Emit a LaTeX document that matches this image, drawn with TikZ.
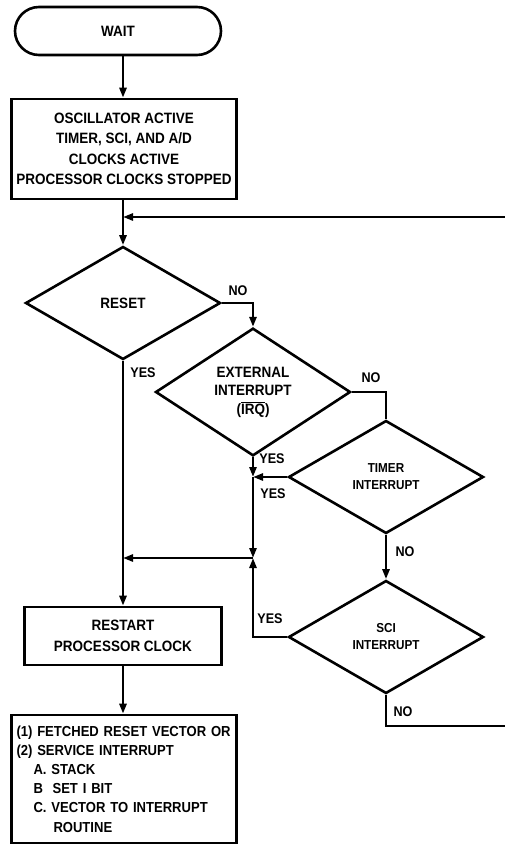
\documentclass[tikz,border=0pt]{standalone}
\usepackage{fontspec}
\setmainfont{Liberation Sans}[FakeStretch=0.9]
\usetikzlibrary{positioning,calc,arrows.meta,shapes.geometric}

\begin{document}
\begin{tikzpicture}[x=1pt, y=-1pt, line width=2.6pt,
  >={Triangle[length=10pt,width=7pt]},
  txt/.style={font=\bfseries\fontsize{15}{20.5}\selectfont},
  box/.style={draw, txt, inner sep=5pt, align=center},
  decision/.style={draw, diamond, txt, inner sep=0pt, align=center,
                   minimum width=195pt, minimum height=113pt},
  lbl/.style={txt, font=\bfseries\fontsize{14}{17}\selectfont, inner sep=0pt}]
\useasboundingbox (0,0) rectangle (505,845);

\node[box, rounded corners=24pt, minimum width=206pt, minimum height=48pt] (wait) at (118,31) {WAIT};
\node[box, minimum width=225pt, minimum height=100pt] (osc) at (124,149)
{OSCILLATOR ACTIVE\\TIMER, SCI, AND A/D\\CLOCKS ACTIVE\\PROCESSOR CLOCKS STOPPED};
\node[decision] (reset) at (123,303) {RESET};
\node[decision] (ext) at (253,392)
{EXTERNAL\\[-2pt]INTERRUPT\\[-2pt](\ensuremath{\overline{\mbox{IRQ}}})};
\node[decision, font=\bfseries\fontsize{13}{17}\selectfont] (timer) at (386,477) {TIMER\\INTERRUPT};
\node[decision, font=\bfseries\fontsize{13}{17}\selectfont] (sci) at (386,637) {SCI\\INTERRUPT};
\node[box, minimum width=197pt, minimum height=58pt] (restart) at (123,636)
{RESTART\\PROCESSOR CLOCK};
\node[box, align=left, text width=215pt, minimum height=128pt,
      font=\bfseries\fontsize{14.5}{19.2}\selectfont] (vector) at (124,779)
{(1) FETCHED RESET VECTOR OR\\
(2) SERVICE INTERRUPT\\
\hspace*{17pt}A. STACK\\
\hspace*{17pt}B\ \ SET I BIT\\
\hspace*{17pt}C. VECTOR TO INTERRUPT\\
\hspace*{37pt}ROUTINE};

\coordinate (jn) at (123,217);
\coordinate (tj) at (253,477);
\coordinate (mg) at (253,558);
\coordinate (fbtop) at (507,217);
\coordinate (fbbot) at (507,726);

\draw[->] (jn |- wait.south) -- (jn |- osc.north);
\draw (jn |- osc.south) -- (jn);
\draw[->] (jn) -- (reset.north);
\draw[->] (reset.east) -| (ext.north);
\draw[->] (reset.south) -- (restart.north);
\draw (ext.east) -| (timer.north);
\draw[->] (ext.south) -- (tj);
\draw[->] (timer.west) -- (tj);
\draw[->] (tj) -- (mg);
\draw[->] (mg) -- (mg -| reset.south);
\draw[->] (timer.south) -- (sci.north);
\draw[->] (sci.west) -| (mg);
\draw[->] (sci.south) |- (fbbot) -- (fbtop) -- (jn);
\draw[->] (restart.south) -- (restart.south |- vector.north);

\node[lbl] (resetno) at (238,291) {NO};
\node[lbl] (resetyes) at (143,373) {YES};
\node[lbl] (extno) at (371,378) {NO};
\node[lbl] (extyes) at (272,459) {YES};
\node[lbl] (timeryes) at (273,494) {YES};
\node[lbl] (timerno) at (405,552) {NO};
\node[lbl] (sciyes) at (270,619) {YES};
\node[lbl] (scino) at (403,712) {NO};
\end{tikzpicture}
\end{document}
